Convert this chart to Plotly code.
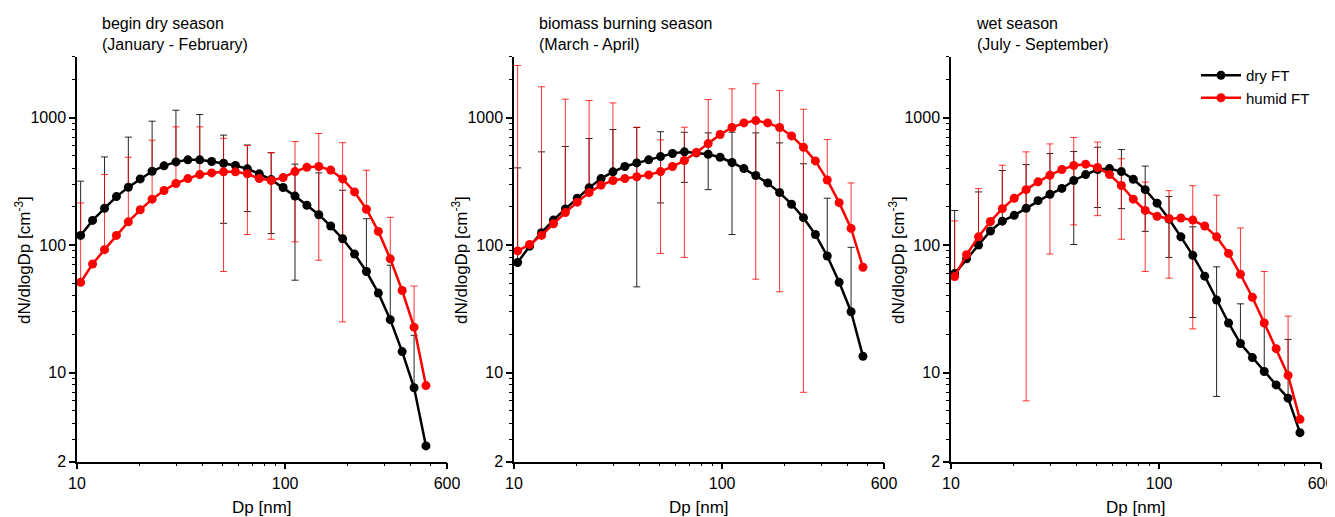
import numpy as np
import plotly.graph_objects as go

# particle diameter bins [nm]
dp = [10.41, 11.88, 13.56, 15.47, 17.65, 20.13, 22.96, 26.20, 29.89, 34.10,
      38.90, 44.38, 50.62, 57.76, 65.89, 75.16, 85.76, 97.82, 111.6, 127.3,
      145.2, 165.7, 189.0, 215.7, 246.0, 280.7, 320.2, 365.3, 416.8, 475.4]

panel_titles = ["begin dry season<br>(January - February)",
                "biomass burning season<br>(March - April)",
                "wet season<br>(July - September)"]

# begin dry season
dry_jf = [119, 156, 194, 240, 284, 330, 379, 418, 449, 466, 466, 452, 438, 421, 396,
          362, 326, 283, 242, 205, 173, 141, 112, 85, 62, 42, 26, 14.6, 7.6, 2.66]
dry_jf_sd = [198, None, 297, None, 418, None, 557, None, 693, None, 590, None, 290, None, 213,
             None, 203, None, 189, None, 195, None, 157, None, 99, None, 43.5, None, 12, None]
humid_jf = [51, 71, 92, 119, 152, 189, 229, 268, 304, 332, 357, 368, 375, 375, 362,
            332, 321, 338, 377, 407, 413, 387, 330, 261, 191, 128, 78, 44, 22.7, 7.9]
humid_jf_sd = [163, None, 265, None, 336, None, 435, None, 541, None, 488, None, 313, None, 241,
               None, 210, None, 271, None, 337, None, 305, None, 195, None, 87, None, 25, None]

# biomass burning season
dry_ma = [73, 98, 125, 157, 192, 233, 281, 332, 375, 413, 441, 466, 494, 522, 538,
          528, 515, 488, 444, 398, 351, 307, 258, 209, 164, 121, 82, 51, 30, 13.4]
dry_ma_sd = [330, None, 413, None, 401, None, 404, None, 430, None, 394, None, 280, None, 228,
             None, 243, None, 323, None, 407, None, 375, None, 270, None, 151, None, 66, None]
humid_ma = [90, 101, 119, 147, 180, 217, 258, 295, 321, 332, 343, 355, 377, 413, 460,
            531, 625, 736, 835, 908, 947, 908, 835, 718, 585, 457, 324, 215, 135, 67]
humid_ma_sd = [2468, None, 1623, None, 1213, None, 1102, None, 982, None, 497, None, 291, None, 380,
               None, 759, None, 844, None, 893, None, 792, None, 578, None, 348, None, 172, None]

# wet season
dry_js = [59.7, 78, 100, 129, 154, 171, 194, 223, 250, 278, 321, 357, 391, 398, 377,
          328, 272, 213, 160, 116, 83, 57, 37, 24.5, 16.9, 13.1, 10.2, 8.0, 6.3, 3.38]
dry_js_sd = [127, None, 161, None, 230, None, 234, None, 272, None, 220, None, 194, None, 184,
             None, 144, None, 80, None, 56, None, 30.5, None, 17.7, None, 14.3, None, 11.9, None]
humid_js = [56.6, 84, 116, 153, 193, 233, 272, 313, 353, 391, 421, 431, 406, 357, 293,
            229, 187, 168, 161, 163, 157, 141, 116, 86, 59, 39, 24.5, 15.4, 9.5, 4.3]
humid_js_sd = [98, None, 161, None, 230, None, 266, None, 268, None, 277, None, 236, None, 182,
               None, 125, None, 106, None, 135, None, 130, None, 77, None, 37.5, None, 18.2, None]

panels = [(dry_jf, dry_jf_sd, humid_jf, humid_jf_sd),
          (dry_ma, dry_ma_sd, humid_ma, humid_ma_sd),
          (dry_js, dry_js_sd, humid_js, humid_js_sd)]

# the page body keeps its default 8px margin, so the figure is a bit smaller
OFF = 8
W, H = 1335 - OFF, 517 - OFF


def px(x):
    return (x - OFF) / W


def py(y):
    return 1 - (y - OFF) / H


x_px = [(77, 447), (514, 884), (951, 1321)]
y_px = (56.7, 461.7)
FONT = "Liberation Sans, Arial, sans-serif"
RED = "#ff0000"

fig = go.Figure()


def error_trace(y, sd, color, axis):
    # only bins with a std dev; lower half dropped when mean - sd <= 0 (log axis)
    xs, ys, up, down = [], [], [], []
    for d, v, s in zip(dp, y, sd):
        if s is None:
            continue
        xs.append(d)
        ys.append(v)
        up.append(s)
        down.append(s if v - s > 0 else 0)
    return go.Scatter(
        x=xs, y=ys, mode="markers",
        marker=dict(size=2, color="rgba(0,0,0,0)"),
        error_y=dict(type="data", symmetric=False, array=up, arrayminus=down,
                     color=color, thickness=1, width=3.5),
        xaxis="x" + axis, yaxis="y" + axis,
        showlegend=False, hoverinfo="skip",
    )


for i, (dry, dry_sd, humid, humid_sd) in enumerate(panels):
    ax = "" if i == 0 else str(i + 1)
    fig.add_trace(error_trace(dry, dry_sd, "rgba(0,0,0,0.85)", ax))
    fig.add_trace(error_trace(humid, humid_sd, "rgba(255,0,0,0.8)", ax))
    fig.add_trace(go.Scatter(
        x=dp, y=dry, mode="lines+markers", name="dry FT",
        line=dict(color="black", width=2.5),
        marker=dict(size=9, color="black"),
        xaxis="x" + ax, yaxis="y" + ax, showlegend=(i == 2),
    ))
    fig.add_trace(go.Scatter(
        x=dp, y=humid, mode="lines+markers", name="humid FT",
        line=dict(color=RED, width=2.5),
        marker=dict(size=9, color=RED),
        xaxis="x" + ax, yaxis="y" + ax, showlegend=(i == 2),
    ))

x_minor = [20, 30, 40, 50, 60, 70, 80, 90, 200, 300, 400, 500]
y_minor = [3, 4, 5, 6, 7, 8, 9, 20, 30, 40, 50, 60, 70, 80, 90,
           200, 300, 400, 500, 600, 700, 800, 900, 2000, 3000]

layout = dict(
    width=W, height=H,
    margin=dict(l=0, r=0, t=0, b=0, autoexpand=False),
    paper_bgcolor="white", plot_bgcolor="white",
    font=dict(family=FONT, size=16, color="black"),
    legend=dict(x=px(1196), y=py(59), xanchor="left", yanchor="top",
                bgcolor="rgba(0,0,0,0)", font=dict(size=15), tracegroupgap=0,
                itemwidth=40),
    annotations=[],
)

for i in range(3):
    sfx = "" if i == 0 else str(i + 1)
    x0, x1 = x_px[i]
    layout["xaxis" + sfx] = dict(
        type="log", range=[1, np.log10(600)],
        domain=[px(x0), px(x1)], anchor="y" + sfx,
        tickvals=[10, 100, 600], ticktext=["10", "100", "600"],
        ticks="outside", ticklen=6, tickwidth=1.5, tickcolor="black",
        minor=dict(tickvals=x_minor, ticks="outside", ticklen=3, tickwidth=1,
                   tickcolor="black", showgrid=False),
        showline=True, linecolor="black", linewidth=1.5,
        showgrid=False, zeroline=False, tickfont=dict(size=16),
    )
    layout["yaxis" + sfx] = dict(
        type="log", range=[np.log10(2), np.log10(3000)],
        domain=[py(y_px[1]), py(y_px[0])], anchor="x" + sfx,
        tickvals=[2, 10, 100, 1000], ticktext=["2", "10", "100", "1000"],
        ticks="outside", ticklen=6, tickwidth=1.5, tickcolor="black",
        minor=dict(tickvals=y_minor, ticks="outside", ticklen=3, tickwidth=1,
                   tickcolor="black", showgrid=False),
        showline=True, linecolor="black", linewidth=1.5,
        showgrid=False, zeroline=False, tickfont=dict(size=16),
    )
    # panel title
    layout["annotations"].append(dict(
        text=panel_titles[i], x=px(x0 + 23), y=py(13),
        xref="paper", yref="paper", xanchor="left", yanchor="top",
        align="left", showarrow=False, font=dict(size=16),
    ))
    # axis titles
    layout["annotations"].append(dict(
        text="Dp [nm]", x=px((x0 + x1) / 2), y=py(507),
        xref="paper", yref="paper", xanchor="center", yanchor="middle",
        showarrow=False, font=dict(size=17),
    ))
    layout["annotations"].append(dict(
        text="dN/dlogDp [cm<sup>-3</sup>]", x=px(x0 - 54), y=py(260),
        xref="paper", yref="paper", xanchor="center", yanchor="middle",
        textangle=-90, showarrow=False, font=dict(size=17),
    ))

fig.update_layout(**layout)

fig.write_html("out.html")
